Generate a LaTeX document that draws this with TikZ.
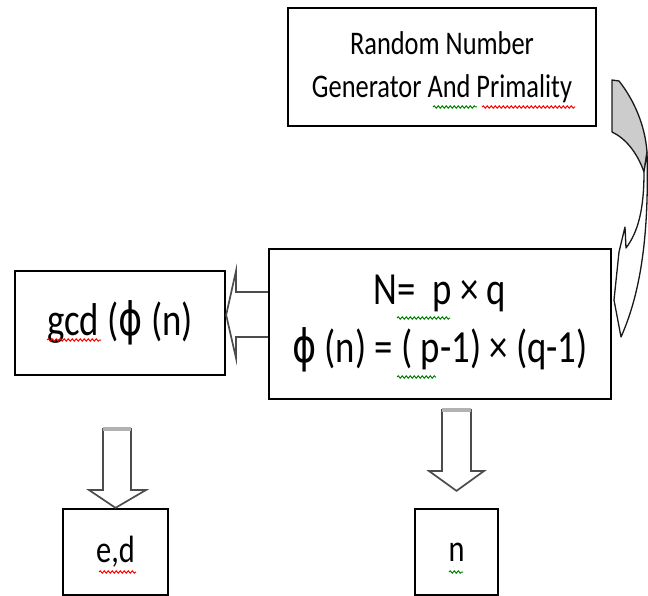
\documentclass[tikz,border=0pt]{standalone}
\usepackage{fontspec}
\setmainfont{Carlito}
\newfontfamily\cf[FakeStretch=0.8]{Carlito}
\newfontfamily\phf[FakeStretch=0.8]{DejaVu Sans}
\newcommand\phisym{{\phf ϕ}}
\usetikzlibrary{decorations.pathmorphing,calc}
\begin{document}
\begin{tikzpicture}[x=1pt,y=-1pt,
  box/.style={draw=black,line width=2.3pt,fill=white,inner sep=0pt,align=center},
  blockarrow/.style={draw=gray!60!black,line width=1.7pt,fill=white,line join=miter},
  arrowtop/.style={draw=gray!60,line width=3.5pt},
  curvearrow/.style={draw=gray!20!black,line width=1.3pt,line join=round},
  squig/.style={decorate,decoration={snake,amplitude=1.2pt,segment length=4pt},line width=1pt}]
\useasboundingbox (0,0) rectangle (648,596);
% boxes
\node[box,minimum width=308pt,minimum height=118pt,font=\cf\fontsize{33}{43}\selectfont] (top) at (442,67) {Random Number\\Generator And Primality};
\node[box,minimum width=342pt,minimum height=150pt,font=\cf\fontsize{46}{58}\selectfont] (mid) at (440,324) {N=\ \ p × q\\\phisym\ (n) = ( p-1) × (q-1)};
\node[box,minimum width=210pt,minimum height=104pt,font=\cf\fontsize{46}{54}\selectfont] (gcd) at (120,323) {gcd (\phisym\ (n)};
\node[box,minimum width=105pt,minimum height=86pt,font=\cf\fontsize{38}{46}\selectfont] (ed) at (115.5,552) {e,d};
\node[box,minimum width=83pt,minimum height=86pt,font=\cf\fontsize{38}{46}\selectfont] (n) at (456.5,552) {n};
% curved arrow from top box to middle box
\draw[curvearrow,fill=gray!40] (612,80) -- (619,81) .. controls (634,100) and (645,125) .. (647,152)
  .. controls (646,160) and (645,165) .. (644,172) .. controls (637,152) and (625,138) .. (612,132) -- cycle;
\draw[curvearrow,fill=white] (647,152) .. controls (649,230) and (642,290) .. (621,337)
  -- (614,300) -- (619,252) -- (625,227) -- (626,248) .. controls (638,232) and (644,210) .. (644,172)
  .. controls (645,165) and (646,160) .. (647,152) -- cycle;
% left block arrow: mid -> gcd
\draw[blockarrow] (mid.west |- 0,292) -- (236,292) -- (236,271) -- (gcd.east |- 0,315) -- (236,358) -- (236,337) -- (mid.west |- 0,337);
% down arrow to e,d
\draw[blockarrow] (103,429) -- (103,490) -- (89,490) -- (ed.north) -- (146,490) -- (131,490) -- (131,429) -- cycle;
\draw[arrowtop] (103,429) -- (131,429);
% down arrow to n
\draw[blockarrow] (442,410) -- (442,471) -- (429,471) -- ($(n.north)+(0,-17)$) -- (484,471) -- (471,471) -- (471,410) -- cycle;
\draw[arrowtop] (442,410) -- (471,410);
% spell-check underlines
\draw[squig,green!50!black] (433,107) -- (477,107);
\draw[squig,red] (482,107) -- (575,107);
\draw[squig,red] (47,340) -- (101,340);
\draw[squig,green!50!black] (397,318) -- (450,318);
\draw[squig,green!50!black] (397,377) -- (436,377);
\draw[squig,red] (99,572) -- (136,572);
\draw[squig,green!50!black] (449,572) -- (463,572);
\end{tikzpicture}
\end{document}
